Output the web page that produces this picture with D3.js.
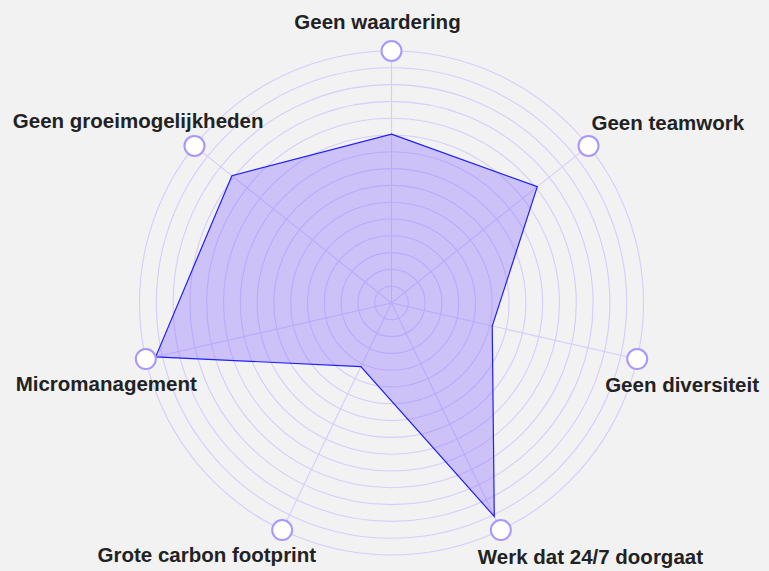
<!DOCTYPE html>
<html>
<head>
<meta charset="utf-8">
<script src="https://cdn.jsdelivr.net/npm/d3@7"></script>
<style>
  html, body { margin: 0; padding: 0; background: #f2f2f2; }
  svg { display: block; }
  .label { font-family: "Liberation Sans", Arial, sans-serif; font-weight: bold; font-size: 20.5px; fill: #222; }
</style>
</head>
<body>
<svg id="chart"></svg>
<script>
const axes = ["Geen waardering", "Geen teamwork", "Geen diversiteit", "Werk dat 24/7 doorgaat",
  "Grote carbon footprint", "Micromanagement", "Geen groeimogelijkheden"];
const values = [67, 74, 41, 94, 28, 96, 81];
const maxValue = 100;
const levels = 15;

// label placement relative to each axis end marker: [anchor, dx, dy]
const labelLayout = [
  ["middle", -14, -22], ["start", 3, -16], ["start", -32, 33], ["start", -23, 34],
  ["end", 34, 32], ["end", 51, 32], ["end", 69, -18]
];

const width = 769, height = 571;
const cx = 391.5, cy = 303, R = 252;

const svg = d3.select("#chart").attr("width", width).attr("height", height);
const g = svg.append("g").attr("transform", `translate(${cx},${cy})`);

const step = 2 * Math.PI / axes.length;
const ang = (i) => i * step;
const r = d3.scaleLinear().domain([0, maxValue]).range([0, R]);

const pt = (i, rad) => [rad * Math.sin(ang(i)), -rad * Math.cos(ang(i))];

// rings
g.selectAll("circle.ring")
  .data(d3.range(1, levels + 1))
  .join("circle")
  .attr("class", "ring")
  .attr("r", d => R * d / levels)
  .attr("fill", "none")
  .attr("stroke", "#d6ccff")
  .attr("stroke-width", 1.1);

// spokes
g.selectAll("line.spoke")
  .data(axes)
  .join("line")
  .attr("class", "spoke")
  .attr("x1", 0).attr("y1", 0)
  .attr("x2", (d, i) => pt(i, R)[0])
  .attr("y2", (d, i) => pt(i, R)[1])
  .attr("stroke", "#d6ccff")
  .attr("stroke-width", 1.1);

// area
const line = d3.lineRadial()
  .angle((d, i) => ang(i))
  .radius(d => r(d))
  .curve(d3.curveLinearClosed);

g.append("path")
  .datum(values)
  .attr("d", line)
  .attr("fill", "#8a6cff")
  .attr("fill-opacity", 0.36)
  .attr("stroke", "#1f1fff")
  .attr("stroke-width", 1.2)
  .attr("stroke-linejoin", "miter");

// end markers
g.selectAll("circle.marker")
  .data(axes)
  .join("circle")
  .attr("class", "marker")
  .attr("cx", (d, i) => pt(i, R)[0])
  .attr("cy", (d, i) => pt(i, R)[1])
  .attr("r", 10)
  .attr("fill", "#fff")
  .attr("stroke", "#a598ff")
  .attr("stroke-width", 2);

// labels
g.selectAll("text.label")
  .data(axes)
  .join("text")
  .attr("class", "label")
  .attr("x", (d, i) => pt(i, R)[0] + labelLayout[i][1])
  .attr("y", (d, i) => pt(i, R)[1] + labelLayout[i][2])
  .attr("text-anchor", (d, i) => labelLayout[i][0])
  .text(d => d);
</script>
</body>
</html>
